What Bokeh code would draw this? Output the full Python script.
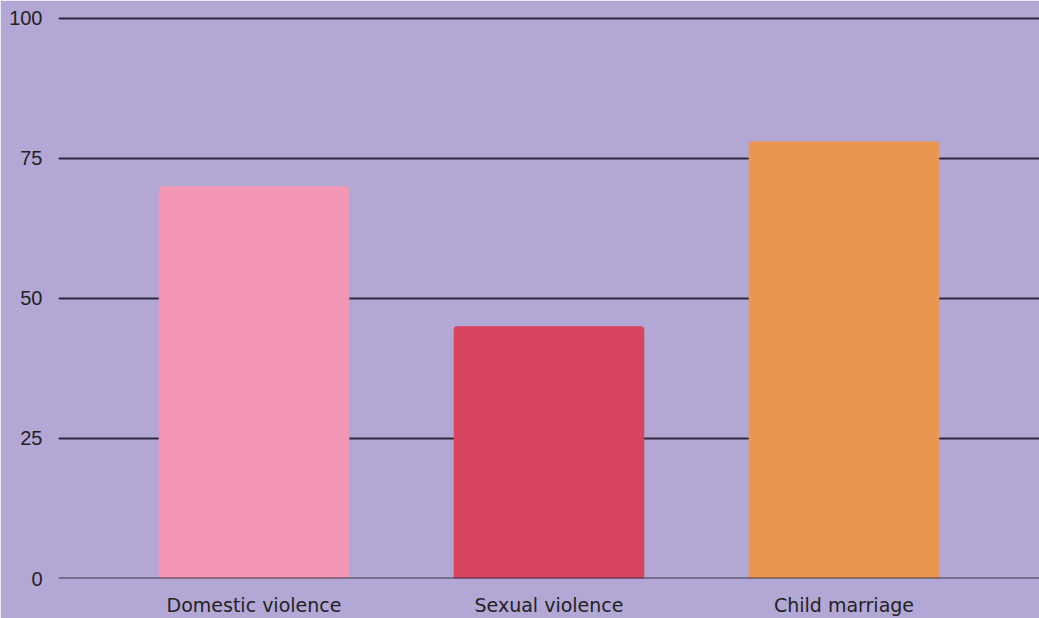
from bokeh.plotting import figure
from bokeh.models import FactorRange, Range1d, FixedTicker, Span
from bokeh.embed import file_html
from bokeh.resources import INLINE

categories = ["Domestic violence", "Sexual violence", "Child marriage"]
values = [70, 45, 78]
colors = ["#f497b4", "#d94460", "#ea9651"]
y_ticks = [0, 25, 50, 75, 100]

BG = "#b3a7d6"

p = figure(
    x_range=FactorRange(factors=categories, range_padding=0.1085),
    y_range=Range1d(0, 101.07),
    width=1039, height=618,
    output_backend="svg", toolbar_location=None,
    min_border_top=12, min_border_right=0, min_border_left=58, min_border_bottom=39,
    background_fill_color=BG, border_fill_color=BG,
)
p.outline_line_color = BG
p.outline_line_width = 2

p.vbar(x=categories, top=values, width=0.644, fill_color=colors,
       line_color=colors, line_alpha=0.6, border_radius=[3, 3, 0, 0])

p.ygrid.ticker = FixedTicker(ticks=y_ticks)
p.ygrid.grid_line_color = "#2e2a3b"
p.ygrid.grid_line_width = 2
p.ygrid.level = "underlay"
p.xgrid.grid_line_color = None

base = Span(location=0, dimension="width", line_color="#3c3848", line_width=2)
p.add_layout(base)

p.yaxis.ticker = FixedTicker(ticks=y_ticks)
p.yaxis.axis_line_color = None
p.yaxis.major_tick_line_color = None
p.yaxis.minor_tick_line_color = None
p.yaxis.major_label_text_font = "Liberation Sans"
p.yaxis.major_label_text_font_size = "20px"
p.yaxis.major_label_text_color = "#222222"
p.yaxis.major_label_standoff = 10

p.xaxis.axis_line_color = None
p.xaxis.major_tick_line_color = None
p.xaxis.minor_tick_line_color = None
p.xaxis.major_label_text_font = "DejaVu Sans"
p.xaxis.major_label_text_font_size = "19px"
p.xaxis.major_label_text_color = "#222222"
p.xaxis.major_label_standoff = 9

open("out.html", "w").write(file_html(p, INLINE))
